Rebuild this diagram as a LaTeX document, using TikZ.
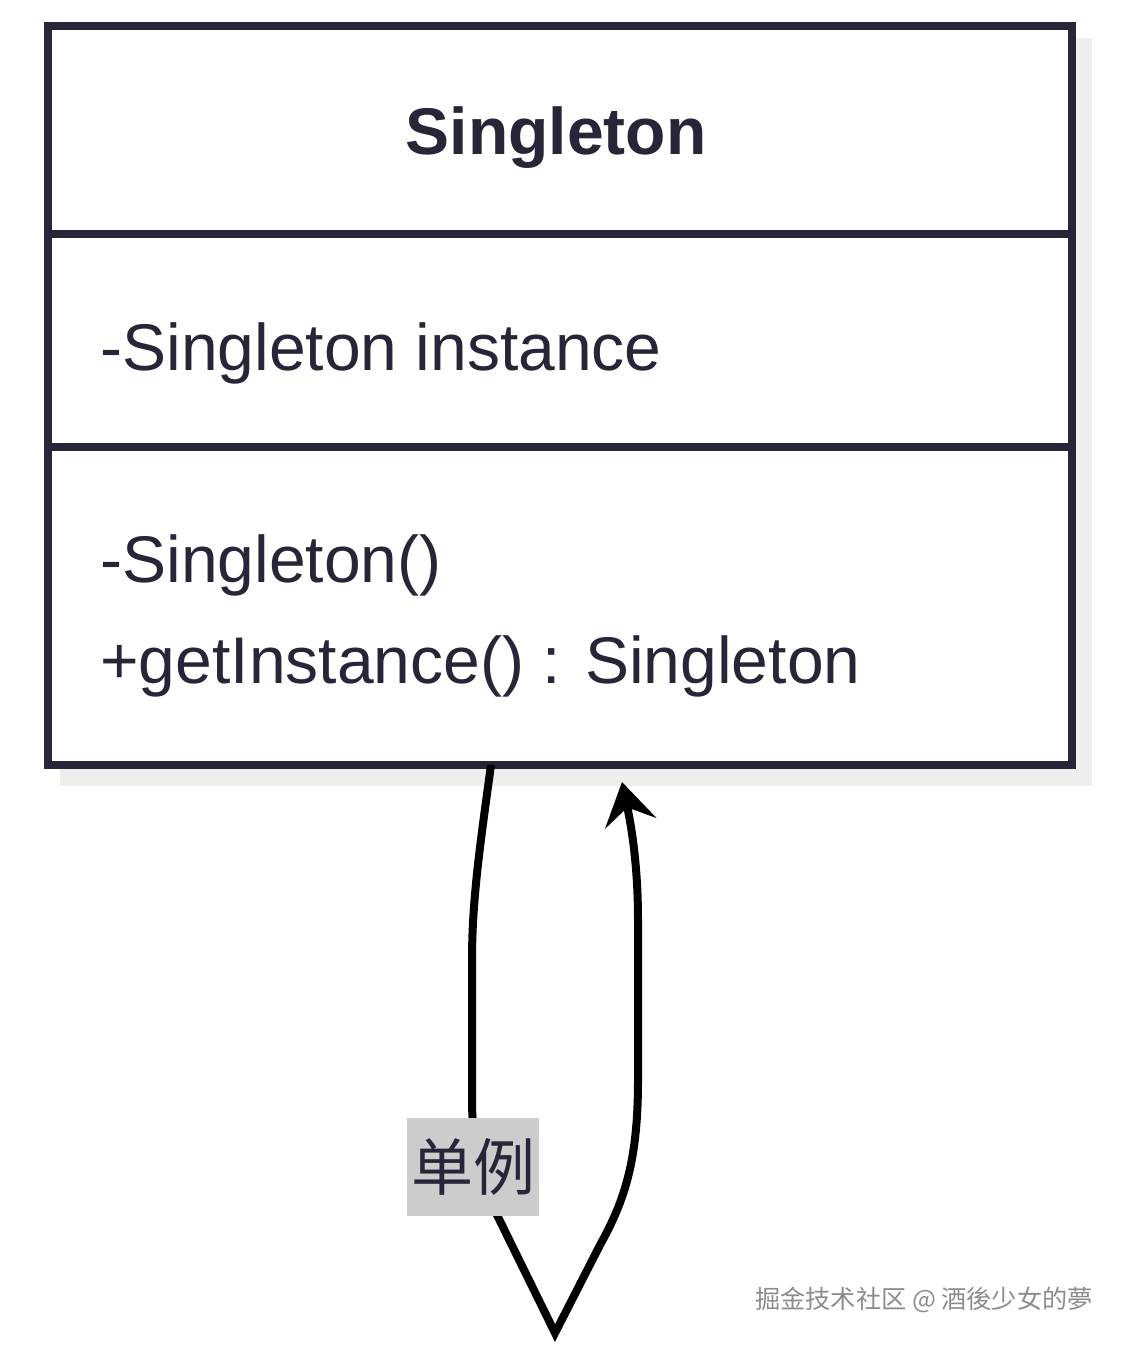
\documentclass[tikz,border=0pt]{standalone}
\usepackage{fontspec}
\setmainfont{Liberation Sans}
\newfontfamily\cjk{Noto Sans CJK SC}
\usetikzlibrary{arrows.meta}
\definecolor{umlnavy}{HTML}{262638}
\definecolor{shadowgray}{HTML}{EEEEEE}
\definecolor{labelgray}{HTML}{CCCCCC}
\definecolor{markgray}{HTML}{8C8C8C}

\begin{document}
\begin{tikzpicture}[x=0.5pt,y=-0.5pt,
  umltext/.style={text=umlnavy,inner sep=0pt,font=\fontsize{33}{40}\selectfont},
  conn/.style={line width=4pt,black}]
\useasboundingbox (0,0) rectangle (1126,1348);

% Shadow of the class box
\fill[shadowgray] (60,38) rectangle (1092,786);

% Class box with its three parts
\node (cls) [draw=umlnavy,line width=4pt,fill=white,inner sep=0pt,
  minimum width=512pt,minimum height=369.5pt,anchor=north west] at (44,22) {};
\draw[umlnavy,line width=4pt] (44,234) -- (1068,234);
\draw[umlnavy,line width=4pt] (44,447) -- (1068,447);
\node (title) [umltext,font=\fontsize{33}{40}\selectfont\bfseries,anchor=base] at (556,155) {Singleton};
\node (attr) [umltext,anchor=base west] at (100,370) {-Singleton instance};
\node (ctor) [umltext,anchor=base west] at (100,582) {-Singleton()};
\node (getinst) [umltext,anchor=base west] at (100,683) {+getInstance() : Singleton};

% Self loop
\coordinate (loopout) at (491,765);
\coordinate (loopbot) at (555,1333);
\coordinate (loopin) at (622,782);
\draw[conn,-{Stealth[length=21pt,width=26pt,inset=8pt]}] (loopout)
  .. controls (480,845) and (472,900) .. (472,960) -- (472,1100)
  .. controls (472,1160) and (490,1200) .. (498,1217) -- (loopbot)
  -- (600,1245) .. controls (625,1200) and (638,1160) .. (638,1080)
  -- (638,920) .. controls (638,860) and (630,820) .. (loopin);
\node (lbl) [fill=labelgray,text=umlnavy,inner sep=0pt,minimum width=66pt,
  minimum height=49pt,font=\cjk\fontsize{31}{36}\selectfont] at (473,1167) {单例};

% Watermark
\node (mark) [text=markgray,inner sep=0pt,font=\cjk\fontsize{12.6}{15}\selectfont]
  at (924,1300) {掘金技术社区 @ 酒後少女的夢};
\end{tikzpicture}
\end{document}
